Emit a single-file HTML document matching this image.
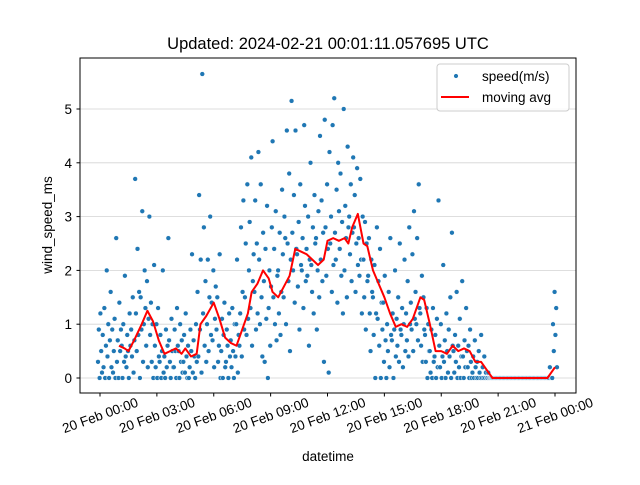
<!DOCTYPE html>
<html><head><meta charset="utf-8"><style>
body{margin:0;background:#fff;}
svg{font-family:"Liberation Sans","DejaVu Sans",sans-serif;}
</style></head><body>
<svg id="chart" width="640" height="480" viewBox="0 0 640 480">
<text x="328" y="49" font-size="16.5" text-anchor="middle">Updated: 2024-02-21 00:01:11.057695 UTC</text>
<g id="grid"></g>
<g id="scatter"></g>
<g id="line"></g>
<rect x="80" y="58" width="496" height="335" fill="none" stroke="#000" stroke-width="1"/>
<g id="yaxis"></g>
<g id="xaxis"></g>
<text x="52" y="225" font-size="13.5" text-anchor="middle" transform="rotate(-90 52 225)">wind_speed_ms</text>
<text x="328" y="461" font-size="13.5" text-anchor="middle">datetime</text>
<g>
<rect x="437" y="64" width="132" height="47" rx="3" fill="#fff" fill-opacity="0.85" stroke="#ccc"/>
<circle cx="456" cy="76" r="2.3" fill="#1f77b4" stroke="#fff" stroke-width="0.5"/>
<text x="482" y="81" font-size="13.5">speed(m/s)</text>
<line x1="441" y1="97" x2="469" y2="97" stroke="red" stroke-width="2"/>
<text x="482" y="102" font-size="13.5">moving avg</text>
</g>
</svg>
<script>
const scatterHours = [0,0.25,0.5,0.75,1,1.25,1.5,1.75,2,2.25,2.5,2.75,3,3.25,3.5,3.75,4,4.25,4.5,4.75,5,5.25,5.5,5.75,6,6.25,6.5,6.75,7,7.25,7.5,7.75,8,8.25,8.5,8.75,9,9.25,9.5,9.75,10,10.25,10.5,10.75,11,11.25,11.5,11.75,12,12.25,12.5,12.75,13,13.25,13.5,13.75,14,14.25,14.5,14.75,15,15.25,15.5,15.75,16,16.25,16.5,16.75,17,17.25,17.5,17.75,18,18.25,18.5,18.75,19,19.25,19.5,19.75,20,20.25,20.5,20.75,21,21.25,21.5,21.75,22,22.25,22.5,22.75,23,23.25,23.5,23.75,24];
const scatterSpeeds = [
[0.3,0.9,0.0,1.2,0.5,0.1],[0.8,0.2,1.3,0.0,0.6,2.0],[0.4,1.0,0.0,0.7,1.6,0.2],[0.9,0.1,0.5,1.1,0.0,2.6],
[0.3,0.7,0.0,1.4,0.5,0.9],[0.6,0.0,1.0,0.3,1.9,0.4],[0.2,0.8,0.5,0.0,1.2,0.6],[0.9,0.4,1.5,0.1,0.7,3.7],
[1.2,0.5,2.4,0.8,1.6,0.0],[1.5,0.9,3.1,0.3,1.0,2.0],[1.3,0.6,1.8,0.2,1.1,3.0],[0.8,1.4,0.3,1.0,0.0,2.1],
[0.6,0.2,1.0,0.0,1.3,0.4],[0.3,0.8,0.0,0.5,2.0,0.1],[0.4,0.0,0.9,0.2,0.6,2.6],[0.7,0.3,0.0,1.1,0.5,0.2],
[0.2,0.9,0.5,0.0,1.3,0.6],[0.5,0.0,1.0,0.3,0.7,0.1],[0.3,0.8,0.1,1.2,0.4,0.0],[0.6,0.0,0.2,0.9,0.5,2.3],
[0.1,0.7,0.4,0.0,1.0,0.3],[1.6,0.4,3.4,0.9,2.2,0.1],[5.65,1.2,2.8,0.6,1.8,0.3],[1.0,2.2,0.5,1.5,3.0,0.8],
[1.4,0.7,2.0,0.2,1.1,1.7],[0.9,1.5,0.3,0.6,2.3,0.0],[0.5,1.1,0.0,0.8,1.4,0.2],[0.3,0.9,0.6,0.0,1.2,0.4],
[0.7,0.2,1.3,0.5,0.0,1.0],[0.4,1.0,2.2,0.1,0.8,0.6],[1.2,2.8,0.4,1.6,3.3,0.9],[1.5,2.5,0.8,3.6,1.1,2.0],
[2.9,1.3,4.1,0.6,1.8,2.3],[1.6,3.3,0.9,2.5,1.2,4.2],[2.2,1.0,3.6,1.5,0.4,2.7],[1.8,0.3,2.4,1.1,3.2,0.0],
[1.3,2.0,0.6,1.7,2.8,4.4],[1.5,2.4,1.0,3.1,0.7,1.9],[2.0,1.2,2.7,0.8,1.6,3.5],[2.3,1.5,3.0,2.6,1.0,4.6],
[2.5,1.8,3.8,0.5,2.2,5.15],[2.7,2.0,3.4,1.4,4.6,2.4],[2.3,1.7,2.9,0.9,3.6,2.1],[2.0,2.6,1.3,4.7,3.2,1.8],
[2.4,1.9,3.0,0.6,2.2,4.0],[2.1,1.6,2.8,1.2,3.4,2.5],[2.6,0.9,2.0,3.1,1.5,4.5],[2.2,3.3,1.8,2.7,0.3,4.8],
[2.8,1.9,3.6,2.4,0.1,4.2],[2.5,3.0,1.6,4.7,2.1,5.2],[2.7,2.2,3.5,1.4,4.0,3.1],[2.4,3.8,1.9,2.9,1.2,5.0],
[2.0,3.2,2.6,1.5,4.3,2.8],[3.0,2.3,3.6,1.8,2.7,4.1],[2.8,3.4,1.6,2.5,3.9,2.1],[2.6,1.9,3.7,2.2,1.2,3.0],
[2.2,1.5,2.9,0.9,2.5,1.8],[1.9,2.6,1.2,0.5,2.2,1.6],[1.5,0.8,2.1,0.0,1.2,2.8],[1.1,1.8,0.6,2.4,0.0,1.4],
[0.9,1.4,0.3,1.9,0.7,0.0],[1.0,0.5,1.6,0.2,2.6,0.8],[0.7,1.2,0.0,0.9,2.0,0.4],[1.1,0.6,1.5,0.3,2.5,0.9],
[0.8,1.3,0.2,1.0,2.2,0.5],[1.2,0.7,1.8,0.4,2.8,1.0],[1.4,0.9,2.3,0.5,3.1,1.1],[1.6,1.0,2.6,0.7,3.6,1.3],
[1.2,0.6,1.9,0.3,1.5,0.9],[0.8,0.3,1.3,0.0,1.0,0.5],[0.5,0.1,0.9,0.0,1.3,0.3],[0.4,0.8,0.0,1.1,0.2,3.3],
[0.6,0.2,1.0,0.0,0.4,2.1],[0.3,0.7,0.0,1.2,0.5,0.1],[0.9,0.4,1.5,0.0,2.7,0.6],[0.5,0.1,0.8,0.3,1.6,0.0],
[0.6,0.2,1.1,0.0,0.4,1.8],[0.4,0.0,0.7,0.2,1.3,0.5],[0.2,0.6,0.0,0.9,0.3,0.0],[0.1,0.4,0.0,0.7,0.2,0.0],
[0.3,0.0,0.5,0.1,0.0,0.8],[0.0,0.2,0.0,0.4,0.0,0.1],[0.0,0.0,0.1,0.0,0.0,0.0],[0,0,0,0,0,0],
[0,0,0,0,0,0],[0,0,0,0,0,0],[0,0,0,0,0,0],[0,0,0,0,0,0],[0,0,0,0,0,0],[0,0,0,0,0,0],[0,0,0,0,0,0],
[0,0,0,0,0,0],[0,0,0,0,0,0],[0,0,0,0,0,0],[0,0,0,0,0,0],[0.0,0.0,0.2,0.0,0.0,0.0],[1.0,0.5,1.6,0.8,1.3,0.2]
];
const avgHours = [1.0,1.3,1.5,1.8,2.2,2.5,2.8,3.1,3.4,3.7,4.0,4.3,4.5,4.8,5.1,5.3,5.6,6.0,6.3,6.6,6.9,7.2,7.5,7.8,8.0,8.3,8.6,8.9,9.1,9.4,9.7,10.0,10.3,10.6,10.9,11.2,11.5,11.8,12.0,12.3,12.6,12.9,13.1,13.3,13.6,13.9,14.1,14.4,14.7,15.0,15.3,15.6,15.9,16.2,16.5,16.9,17.1,17.4,17.7,18.0,18.3,18.6,18.9,19.2,19.5,19.8,20.1,20.4,20.7,21.5,22.4,23.6,23.9,24.0];
const avgSpeeds = [0.6,0.55,0.5,0.7,1.0,1.25,1.05,0.7,0.45,0.5,0.55,0.45,0.55,0.4,0.45,1.0,1.15,1.4,1.1,0.75,0.65,0.6,0.9,1.2,1.6,1.75,2.0,1.85,1.6,1.5,1.7,1.9,2.4,2.35,2.3,2.2,2.1,2.2,2.55,2.6,2.55,2.6,2.5,2.8,3.05,2.5,2.45,2.0,1.75,1.5,1.2,0.95,1.0,0.95,1.1,1.5,1.45,1.0,0.5,0.5,0.45,0.6,0.5,0.55,0.5,0.3,0.3,0.15,0.0,0.0,0.0,0.0,0.15,0.2];
const yTicks = [0,1,2,3,4,5];
const xTickHours = [0,3,6,9,12,15,18,21,24];
const xTickLabels = ["20 Feb 00:00","20 Feb 03:00","20 Feb 06:00","20 Feb 09:00","20 Feb 12:00","20 Feb 15:00","20 Feb 18:00","20 Feb 21:00","21 Feb 00:00"];

const NS="http://www.w3.org/2000/svg";
const xs = h => 100 + h*(455/24);
const ys = v => 378 - v*53.8;
function mk(tag, attrs, parent){const e=document.createElementNS(NS,tag);for(const k in attrs)e.setAttribute(k,attrs[k]);parent.appendChild(e);return e;}
const grid=document.getElementById('grid'), yax=document.getElementById('yaxis'), xax=document.getElementById('xaxis');
yTicks.forEach(t=>{
  const g=mk('line',{x1:80,x2:576,y1:ys(t),y2:ys(t),stroke:'#d3d3d3','stroke-width':0.8},grid);
  
  
  const tk=mk('line',{x1:76.5,x2:80,y1:ys(t),y2:ys(t),stroke:'#000'},yax);
  
  
  const tx=mk('text',{x:72,y:ys(t)+5,'font-size':13.5,'text-anchor':'end'},yax);
  tx.textContent=t;
  
  
});
xTickHours.forEach((h,i)=>{
  const x=xs(h);
  const tk=mk('line',{x1:x,x2:x,y1:393,y2:396.5,stroke:'#000'},xax);
  
  
  const tx=mk('text',{x:x,y:420,'font-size':13.5,'text-anchor':'middle',transform:`rotate(-20 ${x} 415)`},xax);
  tx.textContent=xTickLabels[i];
  
  
});
const sc=document.getElementById('scatter');
scatterHours.forEach((h,i)=>{
  scatterSpeeds[i].forEach((v,j)=>{
    const c=mk('circle',{cx:xs(h+(j-2.5)*0.042),cy:ys(v),r:2.4,fill:'#1f77b4',stroke:'#fff','stroke-width':0.5},sc);
    
    
  });
});
const ln=document.getElementById('line');
const p=mk('polyline',{points:avgHours.map((h,i)=>xs(h)+','+ys(avgSpeeds[i])).join(' '),fill:'none',stroke:'red','stroke-width':2,'stroke-linejoin':'round'},ln);


</script>
</body></html>
